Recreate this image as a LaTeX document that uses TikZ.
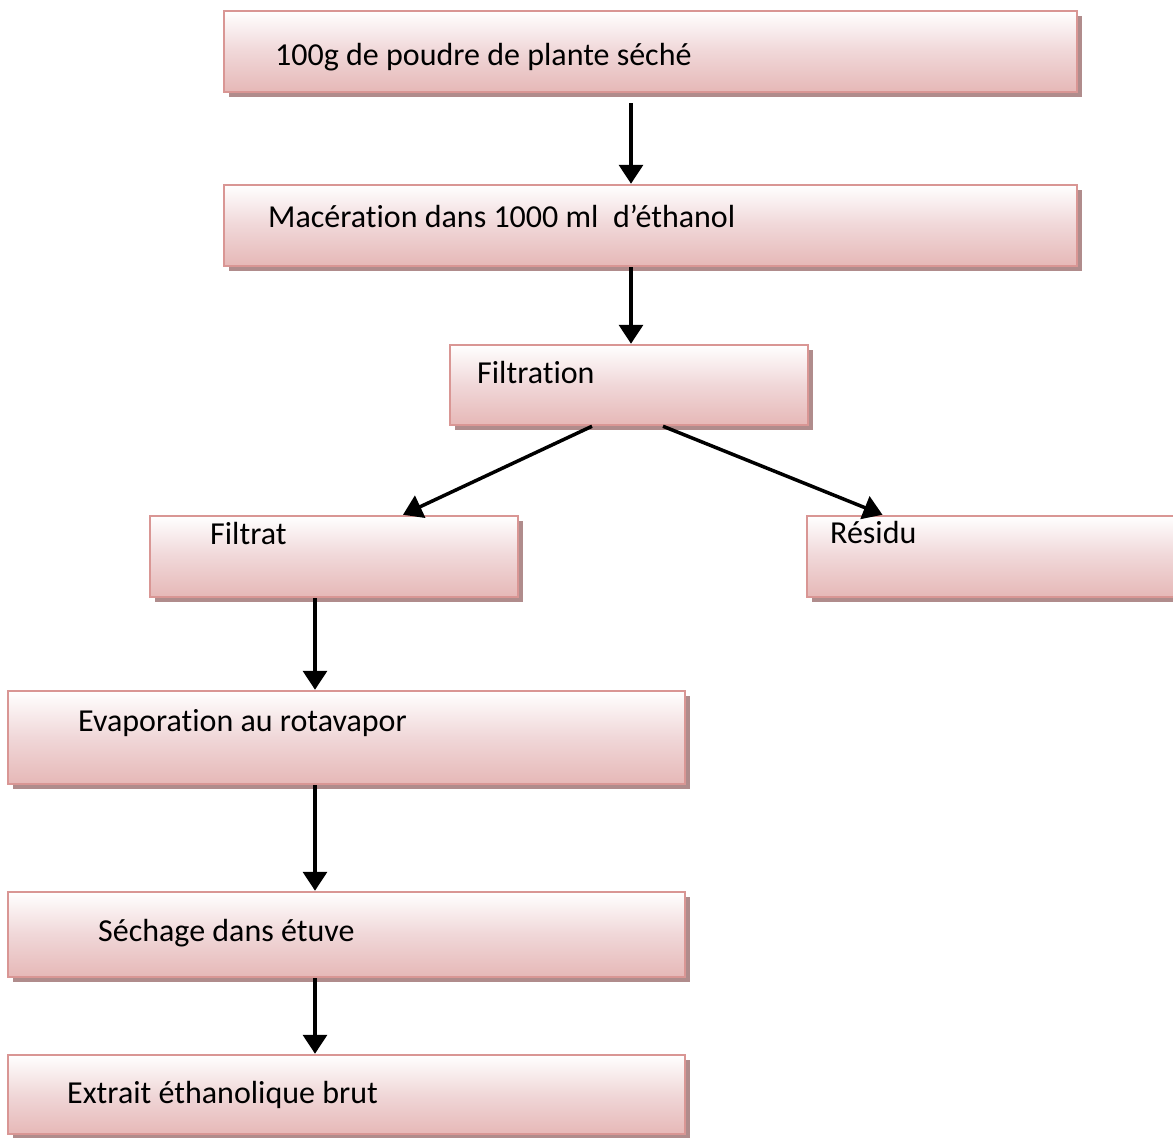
\documentclass[tikz,border=0pt]{standalone}
\usepackage{fontspec}
\setmainfont{Carlito}[Ligatures={NoCommon}]
\usetikzlibrary{shadows,arrows.meta}
\definecolor{boxborder}{RGB}{217,150,148}
\definecolor{boxpink}{RGB}{230,184,183}
\definecolor{boxmid}{RGB}{240,215,216}
\definecolor{shadowcol}{RGB}{176,140,140}
\tikzset{
  stepbox/.style={rectangle, draw=boxborder, line width=2.5pt, inner sep=0pt,
    top color=white, bottom color=boxpink, middle color=boxmid,
    general shadow={fill=shadowcol, shadow xshift=5pt, shadow yshift=-5pt}},
  lbl/.style={anchor=base west, inner sep=0pt, font=\fontsize{32}{38}\selectfont},
  arr/.style={line width=3.5pt, -{Triangle[width=24pt,length=19pt]}}
}
\begin{document}
\begin{tikzpicture}[x=1pt,y=-1pt]
\clip (0,0) rectangle (1173,1138);
\fill[white] (0,0) rectangle (1173,1138);
\node[stepbox, minimum width=853pt, minimum height=81pt] (b1) at (650.5,51.5) {};
\node[stepbox, minimum width=853pt, minimum height=81pt] (b2) at (650.5,225.5) {};
\node[stepbox, minimum width=358pt, minimum height=80pt] (b3) at (629,385) {};
\node[stepbox, minimum width=368pt, minimum height=81pt] (b4) at (334,556.5) {};
\node[stepbox, minimum width=383pt, minimum height=81pt] (b5) at (998.5,556.5) {};
\node[stepbox, minimum width=677pt, minimum height=93pt] (b6) at (346.5,737.5) {};
\node[stepbox, minimum width=677pt, minimum height=85pt] (b7) at (346.5,934.5) {};
\node[stepbox, minimum width=677pt, minimum height=79pt] (b8) at (346.5,1094.5) {};
\node[lbl] (t1) at (275,65) {100g de poudre de plante séché};
\node[lbl] (t2) at (268,227) {Macérat\kern0pt ion dans 1000 ml\ \ d’éthanol};
\node[lbl] (t3) at (477,383) {Filtrat\kern0pt ion};
\node[lbl] (t4) at (210,544) {Filtrat};
\node[lbl] (t5) at (830,543) {Résidu};
\node[lbl] (t6) at (78,731) {Evaporat\kern0pt ion au rotavapor};
\node[lbl] (t7) at (98,941) {Séchage dans étuve};
\node[lbl] (t8) at (67,1103) {Extrait éthanolique brut};
\draw[arr] ([xshift=-19.5pt,yshift=-10pt]b1.south) -- ([xshift=-19.5pt]b2.north);
\draw[arr] ([xshift=-19.5pt]b2.south) -- ([xshift=2pt]b3.north);
\draw[arr] ([xshift=-37pt]b3.south) -- ([xshift=69pt]b4.north);
\draw[arr] ([xshift=34pt]b3.south) -- ([xshift=-116pt]b5.north);
\draw[arr] ([xshift=-19pt]b4.south) -- ([xshift=-31.5pt]b6.north);
\draw[arr] ([xshift=-31.5pt]b6.south) -- ([xshift=-31.5pt]b7.north);
\draw[arr] ([xshift=-31.5pt]b7.south) -- ([xshift=-31.5pt]b8.north);
\end{tikzpicture}
\end{document}
